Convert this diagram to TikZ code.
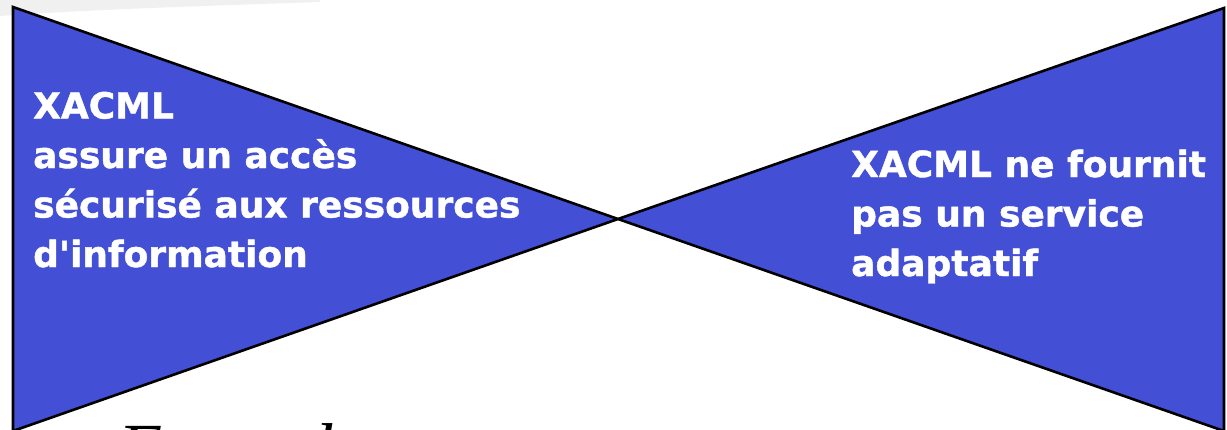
\documentclass[tikz,border=0pt]{standalone}
\usepackage{fontspec}
\setmainfont{DejaVu Sans}
\newfontfamily\heavyfont[FakeBold=1.2]{DejaVu Sans Bold}
\newfontfamily\exfont{Liberation Serif}
\definecolor{fillblue}{RGB}{67,80,214}
\begin{document}
\begin{tikzpicture}[x=1pt,y=-1pt,
  tri/.style={fill=fillblue,draw=black,line width=2.6pt,line join=miter},
  lbl/.style={text=white,font=\heavyfont\fontsize{36}{49.5}\selectfont,align=left,inner sep=0pt,anchor=base west},
  extitle/.style={font=\exfont\itshape\fontsize{72}{80}\selectfont,inner sep=0pt,anchor=base west}]
\useasboundingbox (0,0) rectangle (1227,429);
\clip (0,0) rectangle (1227,429);
\fill[black!6] (0,0) -- (320,0) -- (320,2) .. controls (200,6) and (80,10) .. (0,16) -- cycle;
\coordinate (c) at (618,219);
\coordinate (lt) at (13,7);
\coordinate (lb) at (13,431);
\coordinate (rt) at (1224,8);
\coordinate (rb) at (1224,431);
\draw[tri] (lt) -- (c) -- (lb) -- cycle;
\draw[tri] (rt) -- (c) -- (rb) -- cycle;
\node[lbl] (left) at (33,267) {XACML\\assure un accès\\sécurisé aux ressources\\d\textquotesingle information};
\node[lbl] (right) at (851,276) {XACML ne fournit\\pas un service\\adaptatif};
\node[extitle] (ex) at (118,473) {Exemple};
\end{tikzpicture}
\end{document}
